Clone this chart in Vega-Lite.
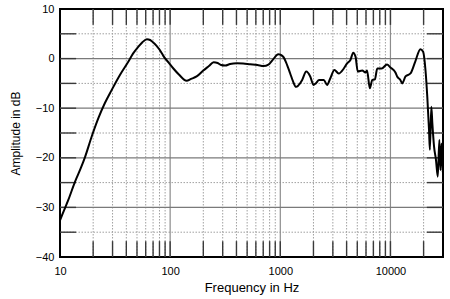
{
  "$schema": "https://vega.github.io/schema/vega-lite/v6.json",
  "autosize": {"type": "none"},
  "width": 383,
  "height": 248,
  "padding": {"left": 60, "top": 9, "right": 7, "bottom": 42},
  "background": "white",
  "config": {
    "view": {"stroke": "black", "strokeWidth": 2},
    "font": "Liberation Sans",
    "axis": {"labelFont": "Liberation Sans", "titleFont": "Liberation Sans", "labelFontSize": 11, "titleFontSize": 12, "titleFontWeight": "normal", "labelColor": "black", "titleColor": "black", "labelFlush": false, "labelOverlap": false}
  },
  "datasets": {
    "curve": [
      {"f": 10, "db": -32.6}, {"f": 10.6, "db": -31.2}, {"f": 11.9, "db": -28.5}, {"f": 13.7, "db": -24.8},
      {"f": 15.5, "db": -22}, {"f": 16.9, "db": -19.8}, {"f": 19.4, "db": -15.7}, {"f": 22.3, "db": -12.0},
      {"f": 25.5, "db": -9}, {"f": 29.5, "db": -6.3}, {"f": 35, "db": -3.3}, {"f": 41.8, "db": -0.6},
      {"f": 46, "db": 1}, {"f": 51.5, "db": 2.4}, {"f": 56, "db": 3.3}, {"f": 61.5, "db": 3.9},
      {"f": 65.8, "db": 3.75}, {"f": 68.2, "db": 3.5}, {"f": 75, "db": 2.6}, {"f": 84, "db": 1.1},
      {"f": 87, "db": 0.5}, {"f": 97, "db": -0.8}, {"f": 107, "db": -2.0}, {"f": 120, "db": -3.2},
      {"f": 141, "db": -4.45}, {"f": 155, "db": -4.1}, {"f": 174, "db": -3.6}, {"f": 200, "db": -2.4},
      {"f": 225, "db": -1.5}, {"f": 248, "db": -0.75}, {"f": 270, "db": -0.9}, {"f": 290, "db": -1.3},
      {"f": 316, "db": -1.4}, {"f": 350, "db": -1.1}, {"f": 403, "db": -0.95}, {"f": 460, "db": -1.0},
      {"f": 532, "db": -1.15}, {"f": 620, "db": -1.3}, {"f": 705, "db": -1.5}, {"f": 780, "db": -1.2},
      {"f": 850, "db": -0.3}, {"f": 960, "db": 0.9}, {"f": 1000, "db": 0.8}, {"f": 1070, "db": 0.3},
      {"f": 1130, "db": -0.8}, {"f": 1230, "db": -3.0}, {"f": 1300, "db": -4.5}, {"f": 1390, "db": -5.7},
      {"f": 1460, "db": -5.4}, {"f": 1580, "db": -4.3}, {"f": 1720, "db": -2.6}, {"f": 1870, "db": -3.6},
      {"f": 2000, "db": -5.3}, {"f": 2100, "db": -5.0}, {"f": 2250, "db": -4.3}, {"f": 2480, "db": -4.3},
      {"f": 2660, "db": -5.3}, {"f": 2840, "db": -4.0}, {"f": 3100, "db": -2.3}, {"f": 3390, "db": -3.0},
      {"f": 3770, "db": -2.0}, {"f": 4040, "db": -0.95}, {"f": 4330, "db": -0.3}, {"f": 4590, "db": 1.2},
      {"f": 4820, "db": 0.4}, {"f": 5050, "db": -2.6}, {"f": 5540, "db": -2.4}, {"f": 5930, "db": -2.8},
      {"f": 6130, "db": -2.4}, {"f": 6500, "db": -6.0}, {"f": 6840, "db": -4.3}, {"f": 7220, "db": -4.2},
      {"f": 7590, "db": -2.0}, {"f": 8330, "db": -2.0}, {"f": 9300, "db": -1.2}, {"f": 10000, "db": -1.8},
      {"f": 11100, "db": -2.8}, {"f": 11500, "db": -3.6}, {"f": 12300, "db": -4.3}, {"f": 12800, "db": -5.0},
      {"f": 13700, "db": -3.6}, {"f": 15200, "db": -3.0}, {"f": 16800, "db": -0.6}, {"f": 18700, "db": 1.9},
      {"f": 19800, "db": 1.4}, {"f": 20800, "db": -2.3}, {"f": 21600, "db": -7.7}, {"f": 22400, "db": -14.4},
      {"f": 22800, "db": -18.4}, {"f": 23500, "db": -9.7}, {"f": 24000, "db": -13.0}, {"f": 24900, "db": -17.8},
      {"f": 25900, "db": -20.4}, {"f": 26900, "db": -23.8}, {"f": 27800, "db": -16.4}, {"f": 28480, "db": -22.5},
      {"f": 29100, "db": -17.1}, {"f": 29900, "db": -22.9}
    ],
    "xminor": [
      {"f": 20}, {"f": 30}, {"f": 40}, {"f": 50}, {"f": 60}, {"f": 70}, {"f": 80}, {"f": 90},
      {"f": 200}, {"f": 300}, {"f": 400}, {"f": 500}, {"f": 600}, {"f": 700}, {"f": 800}, {"f": 900},
      {"f": 2000}, {"f": 3000}, {"f": 4000}, {"f": 5000}, {"f": 6000}, {"f": 7000}, {"f": 8000}, {"f": 9000},
      {"f": 20000}
    ],
    "xmajor": [{"f": 100}, {"f": 1000}, {"f": 10000}],
    "xticks": [
      {"f": 20}, {"f": 30}, {"f": 40}, {"f": 50}, {"f": 60}, {"f": 70}, {"f": 80}, {"f": 90}, {"f": 100},
      {"f": 200}, {"f": 300}, {"f": 400}, {"f": 500}, {"f": 600}, {"f": 700}, {"f": 800}, {"f": 900}, {"f": 1000},
      {"f": 2000}, {"f": 3000}, {"f": 4000}, {"f": 5000}, {"f": 6000}, {"f": 7000}, {"f": 8000}, {"f": 9000}, {"f": 10000},
      {"f": 20000}
    ],
    "yminor": [{"db": -35}, {"db": -25}, {"db": -15}, {"db": -5}, {"db": 5}],
    "ymajor": [{"db": -30}, {"db": -20}, {"db": -10}, {"db": 0}],
    "yticks": [{"db": -35}, {"db": -30}, {"db": -25}, {"db": -20}, {"db": -15}, {"db": -10}, {"db": -5}, {"db": 0}, {"db": 5}]
  },
  "layer": [
    {
      "data": {"name": "xminor"},
      "mark": {"type": "rule", "color": "#a0a0a0", "strokeWidth": 1, "strokeDash": [1.5, 1.5]},
      "encoding": {
        "x": {"field": "f", "type": "quantitative", "scale": {"type": "log", "domain": [10, 30000], "nice": false},
              "axis": {"values": [10, 100, 1000, 10000], "format": "d", "grid": false, "ticks": false, "domain": false, "labelPadding": 8, "title": "Frequency in Hz", "titleFontSize": 13, "titlePadding": 5}}
      }
    },
    {
      "data": {"name": "yminor"},
      "mark": {"type": "rule", "color": "#a0a0a0", "strokeWidth": 1, "strokeDash": [1.5, 1.5]},
      "encoding": {
        "y": {"field": "db", "type": "quantitative", "scale": {"domain": [-40, 10], "nice": false, "zero": false},
              "axis": {"values": [-40, -30, -20, -10, 0, 10], "grid": false, "ticks": false, "domain": false, "labelPadding": 6, "title": "Amplitude in dB", "titlePadding": 13}}
      }
    },
    {
      "data": {"name": "xmajor"},
      "mark": {"type": "rule", "color": "#8c8c8c", "strokeWidth": 1.2},
      "encoding": {"x": {"field": "f", "type": "quantitative"}}
    },
    {
      "data": {"name": "ymajor"},
      "mark": {"type": "rule", "color": "#7a7a7a", "strokeWidth": 1.2},
      "encoding": {"y": {"field": "db", "type": "quantitative"}}
    },
    {
      "data": {"name": "xticks"},
      "mark": {"type": "rule", "color": "#3a3a3a", "strokeWidth": 1.4},
      "encoding": {"x": {"field": "f", "type": "quantitative"}, "y": {"datum": -40}, "y2": {"datum": -36.8}}
    },
    {
      "data": {"name": "xticks"},
      "mark": {"type": "rule", "color": "#3a3a3a", "strokeWidth": 1.4},
      "encoding": {"x": {"field": "f", "type": "quantitative"}, "y": {"datum": 10}, "y2": {"datum": 6.8}}
    },
    {
      "data": {"name": "yticks"},
      "mark": {"type": "rule", "color": "#3a3a3a", "strokeWidth": 1.4},
      "encoding": {"y": {"field": "db", "type": "quantitative"}, "x": {"datum": 10}, "x2": {"datum": 14}}
    },
    {
      "data": {"name": "yticks"},
      "mark": {"type": "rule", "color": "#3a3a3a", "strokeWidth": 1.4},
      "encoding": {"y": {"field": "db", "type": "quantitative"}, "x": {"datum": 21400}, "x2": {"datum": 30000}}
    },
    {
      "data": {"name": "curve"},
      "mark": {"type": "line", "color": "black", "strokeWidth": 2, "interpolate": "monotone", "clip": true},
      "encoding": {"x": {"field": "f", "type": "quantitative"}, "y": {"field": "db", "type": "quantitative"}}
    }
  ]
}
